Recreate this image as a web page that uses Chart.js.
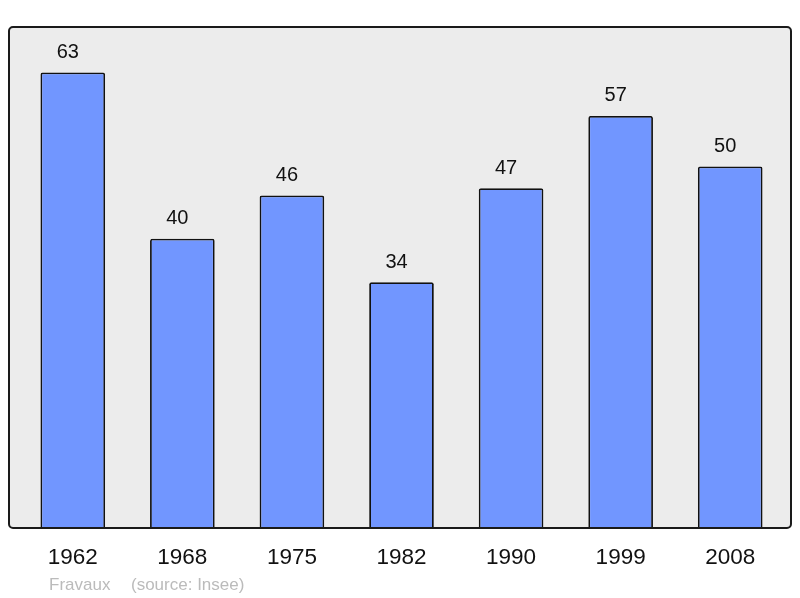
<!DOCTYPE html>
<html>
<head>
<meta charset="utf-8">
<script src="https://cdn.jsdelivr.net/npm/chart.js@4/dist/chart.umd.min.js"></script>
<style>
html, body { margin: 0; padding: 0; background: #fff; }
#wrap { width: 800px; height: 598px; position: relative; }
</style>
</head>
<body>
<div id="wrap"><canvas id="myChart" width="800" height="598"></canvas></div>
<script>
var years = ['1962', '1968', '1975', '1982', '1990', '1999', '2008'];
var population = [63, 40, 46, 34, 47, 57, 50];
var footerName = 'Fravaux';
var footerSource = '(source: Insee)';

// grey panel with a rounded black frame, drawn around the chart area
var panel = {
    id: 'panel',
    beforeDraw: function(chart){
        var a = chart.chartArea, c = chart.ctx;
        c.save();
        c.beginPath();
        c.roundRect(9, a.top, 782, a.bottom - a.top, 4);
        c.fillStyle = '#ececec';
        c.fill();
        c.restore();
    },
    afterDatasetsDraw: function(chart){
        var a = chart.chartArea, c = chart.ctx;
        c.save();
        c.beginPath();
        c.roundRect(9, a.top, 782, a.bottom - a.top, 4);
        c.lineWidth = 2;
        c.strokeStyle = '#1a1a1a';
        c.stroke();

        // value labels above the bars (sit a little left of centre in the original)
        c.fillStyle = '#111';
        c.font = '20px "Liberation Sans", Arial, sans-serif';
        c.textAlign = 'center';
        c.textBaseline = 'middle';
        chart.getDatasetMeta(0).data.forEach(function(bar, i){
            c.fillText(population[i], bar.x - 5, bar.y - 20);
        });

        // footer
        c.fillStyle = '#bbbbbb';
        c.font = '17px "Liberation Sans", Arial, sans-serif';
        c.textAlign = 'left';
        c.textBaseline = 'alphabetic';
        c.fillText(footerName, 49, 590);
        c.fillText(footerSource, 131, 590);
        c.restore();
    }
};

var ctx = document.getElementById('myChart').getContext('2d');
var chart = new Chart(ctx, {
    type: 'bar',
    data: {
        labels: years,
        datasets: [{
            data: population,
            backgroundColor: '#7196ff',
            borderColor: '#111',
            borderWidth: 1.8,
            borderSkipped: 'bottom',
            borderRadius: {topLeft: 2, topRight: 2},
            barPercentage: 0.59,
            categoryPercentage: 1
        }]
    },
    options: {
        responsive: false,
        animation: false,
        layout: {padding: {left: 18, right: 15, top: 27, bottom: 11}},
        plugins: {legend: {display: false}, tooltip: {enabled: false}},
        scales: {
            x: {
                grid: {display: false, drawTicks: false},
                border: {display: false},
                ticks: {
                    color: '#111',
                    padding: 16,
                    font: {family: '"Liberation Sans", Arial, sans-serif', size: 22.5}
                }
            },
            y: {display: false, min: 0, max: 69.3}
        }
    },
    plugins: [panel]
});
</script>
</body>
</html>
